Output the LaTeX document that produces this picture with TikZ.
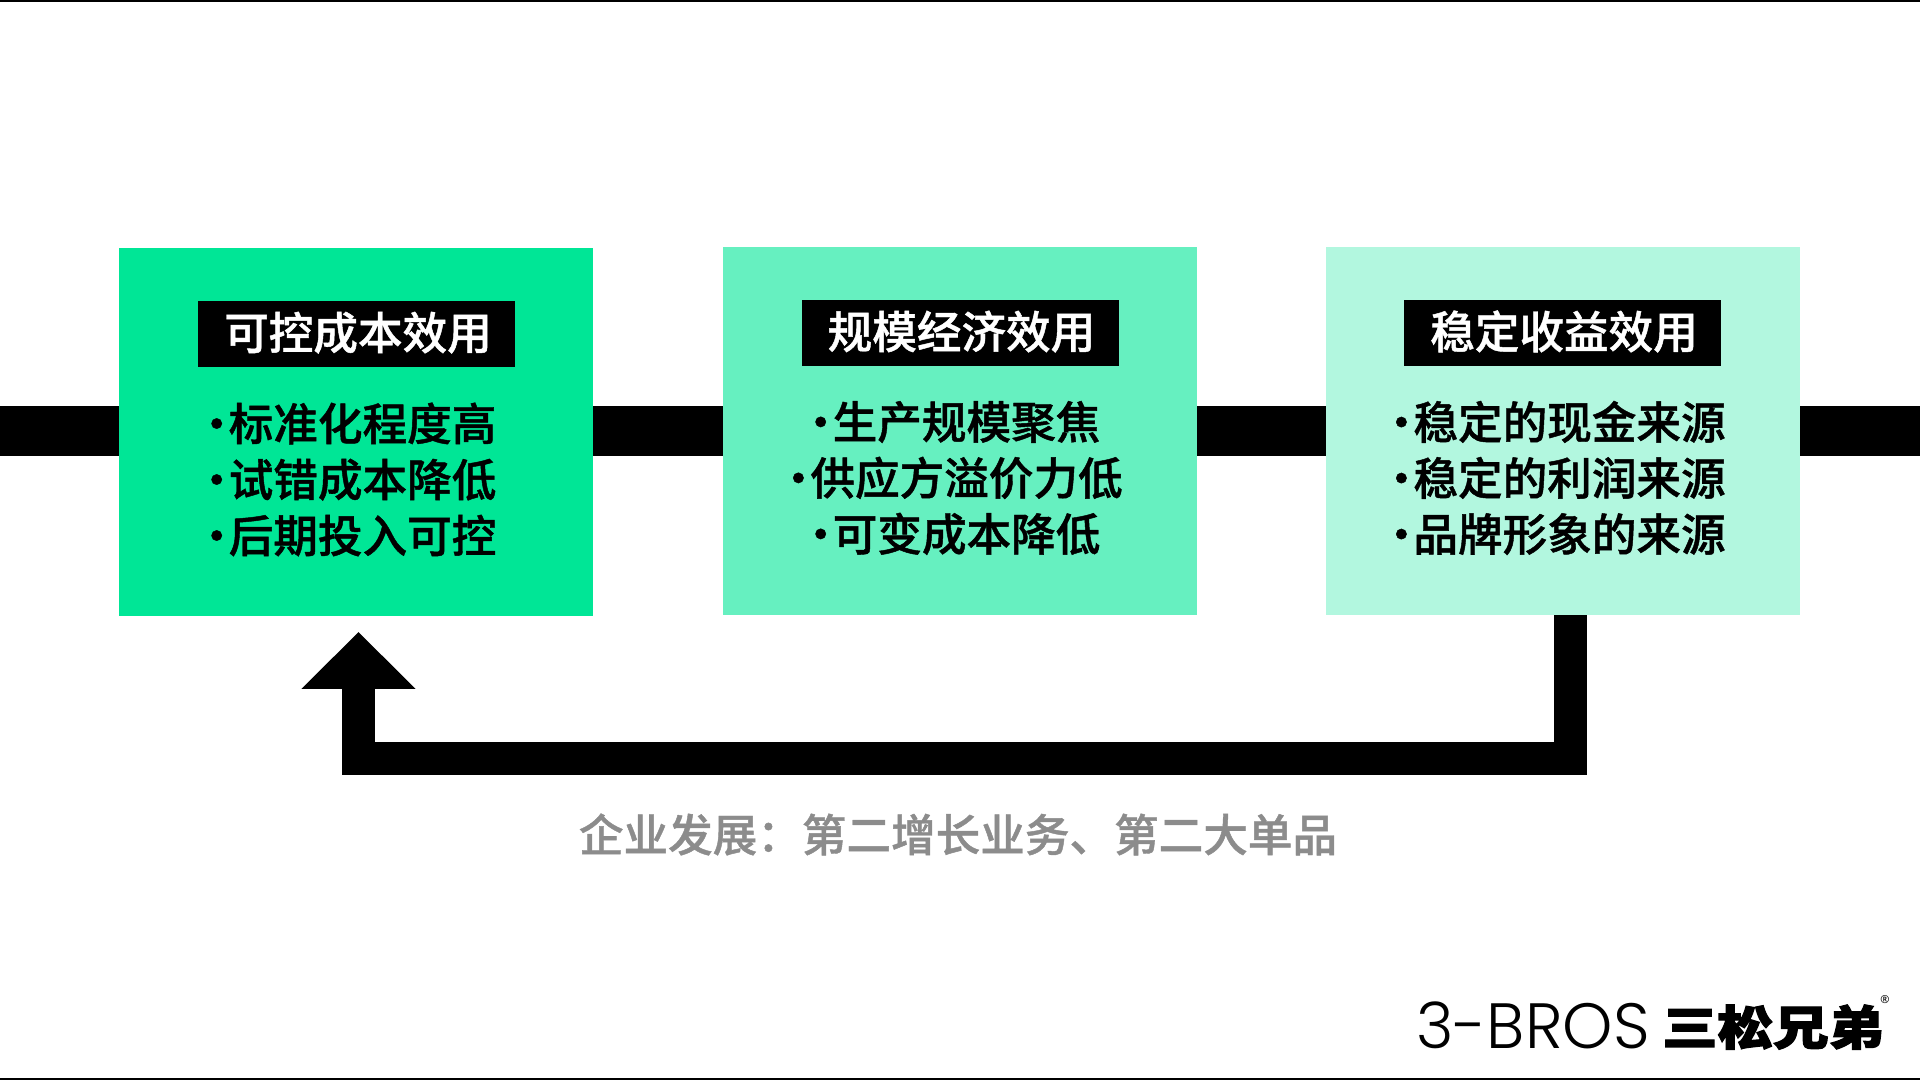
\documentclass[tikz,border=0pt]{standalone}
\usepackage{fontspec}
\usetikzlibrary{arrows.meta}
\setmainfont{Noto Sans CJK SC Medium}[FakeBold=1]
\newfontfamily\dotfont{Noto Sans}
\newfontfamily\logolatin{Poppins Light}
\newfontfamily\logocjk{Noto Sans CJK SC Black}[FakeStretch=1.18,FakeBold=2.5]
\definecolor{greenA}{HTML}{00E696}
\definecolor{greenB}{HTML}{66F0C0}
\definecolor{greenC}{HTML}{B2F7DF}
\definecolor{grayNote}{HTML}{8C8C8C}
\newcommand\itemdot{\makebox[24pt]{·}}
\tikzset{
  panel/.style={minimum width=474pt,minimum height=368pt,inner sep=0pt},
  headbox/.style={fill=black,text=white,minimum width=317pt,minimum height=66pt,inner sep=0pt,text height=40pt,text depth=9pt,execute at begin node=\hspace*{3pt},font=\fontsize{44.6}{56}\selectfont},
  itemtext/.style={align=center,inner sep=0pt,font=\fontsize{44.6}{56}\selectfont},
  mainbar/.style={line width=50pt},
  backarrow/.style={line width=33pt,-{Triangle[width=111pt,length=57pt]}},
  rule/.style={line width=2pt}
}
\begin{document}
\begin{tikzpicture}[x=1pt,y=1pt]
\useasboundingbox(0,0)rectangle(1920,1080);
\coordinate(barin)at(0,649);
\coordinate(barout)at(1920,649);
\node[panel,fill=greenA](costbox)at(356,648){};
\node[panel,fill=greenB](scalebox)at(960,649){};
\node[panel,fill=greenC](incomebox)at(1563,649){};
\draw[mainbar](barin)--(barin-|costbox.west);
\draw[mainbar](barin-|costbox.east)--(barin-|scalebox.west);
\draw[mainbar](barin-|scalebox.east)--(barin-|incomebox.west);
\draw[mainbar](barin-|incomebox.east)--(barout);
\node[headbox](costhead)at(356.5,746){可控成本效用};
\node[headbox](scalehead)at(960,747){规模经济效用};
\node[headbox](incomehead)at(1562.5,747){稳定收益效用};
\node[itemtext](costitems)at(350.5,600.5){\itemdot 标准化程度高\\\itemdot 试错成本降低\\\itemdot 后期投入可控};
\node[itemtext](scaleitems)at(954.5,602){\itemdot 生产规模聚焦\\\itemdot 供应方溢价力低\\\itemdot 可变成本降低};
\node[itemtext](incomeitems)at(1557.5,602){\itemdot 稳定的现金来源\\\itemdot 稳定的利润来源\\\itemdot 品牌形象的来源};
\coordinate(backstart)at(1570.5,465);
\coordinate(backcorner)at(358.5,321.5);
\coordinate(backtip)at(358.5,448);
\draw[backarrow,line join=miter](backstart|-incomebox.south)--(backstart|-backcorner)--(backcorner)--(backtip);
\node[inner sep=0pt,text=grayNote,font=\fontsize{44.6}{56}\selectfont](growthnote)at(958,245.5){企业发展：第二增长业务、第二大单品};
\node[inner sep=0pt,anchor=base west,font=\logolatin\fontsize{64}{64}\selectfont](logotext)at(1416,32){3-BROS};
\node[inner sep=0pt,anchor=base west,font=\logocjk\fontsize{47}{47}\selectfont](logomarkcjk)at(1662,35){三松兄弟};
\node[inner sep=0pt,font=\dotfont\fontsize{11}{11}\selectfont](logomark)at(1885,80){®};
\coordinate(topleft)at(0,1079);
\coordinate(topright)at(1920,1079);
\coordinate(bottomleft)at(0,1.5);
\coordinate(bottomright)at(1920,1.5);
\draw[rule](topleft)--(topright);
\draw[rule](bottomleft)--(bottomright);
\end{tikzpicture}
\end{document}
